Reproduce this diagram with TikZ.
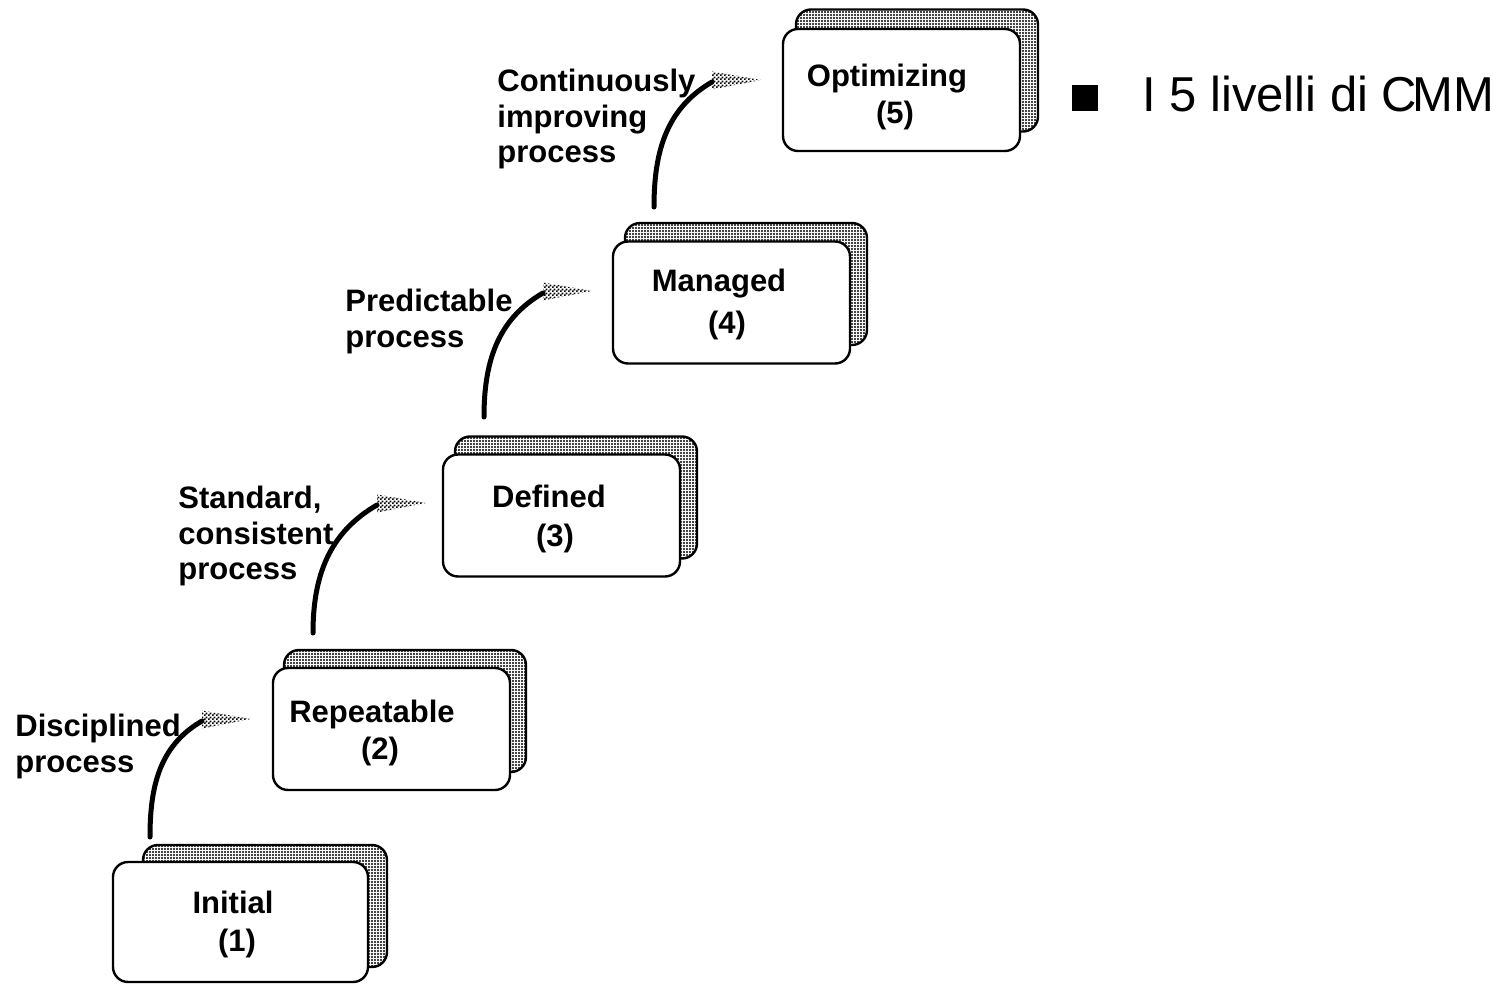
\documentclass[tikz,border=0pt]{standalone}
\usepackage{fontspec}
\setmainfont{Liberation Sans}
\usetikzlibrary{patterns,patterns.meta}

% fine checkerboard used for the flag-shaped arrow heads
\pgfdeclarepatternformonly{finecheck}{\pgfpointorigin}{\pgfpoint{2pt}{2pt}}{\pgfpoint{2pt}{2pt}}{%
  \pgfpathrectangle{\pgfpointorigin}{\pgfpoint{1pt}{1pt}}%
  \pgfpathrectangle{\pgfpoint{1pt}{1pt}}{\pgfpoint{1pt}{1pt}}%
  \pgfusepath{fill}}

\begin{document}
\begin{tikzpicture}[x=0.5pt,y=-0.5pt,
  backcard/.style={draw=black,line width=1.2pt,rounded corners=7.5pt,
    pattern={Dots[distance=1.5pt,radius=0.6pt]},pattern color=black,
    minimum width=121pt,minimum height=61pt,inner sep=0pt},
  frontcard/.style={draw=black,line width=1.2pt,rounded corners=7.5pt,fill=white,
    minimum width=118.5pt,minimum height=61pt,inner sep=0pt},
  levelname/.style={font=\fontsize{15.5pt}{17.75pt}\selectfont\bfseries,inner sep=0pt,anchor=base},
  steplabel/.style={font=\fontsize{15.5pt}{17.75pt}\selectfont\bfseries,inner sep=0pt,
    anchor=north west,align=left},
  climb/.style={line width=2.5pt,line cap=round},
  flaghead/.pic={\path[pattern=finecheck,pattern color=black]
    (0,-10.5) -- (49,-2) -- (0,7.5) -- cycle;}
]
\fill[white] (0,0) rectangle (1500,984);
\useasboundingbox (0,0) rectangle (1500,984);

% level cards: dotted card behind, white card in front
\node[backcard,minimum width=122pt] (l1b) at (265,906) {};
\node[frontcard,minimum width=127.5pt,minimum height=60pt] (l1) at (240.5,922) {};
\node[backcard] (l2b) at (405,711) {};
\node[frontcard] (l2) at (391.5,729) {};
\node[backcard] (l3b) at (576,497.5) {};
\node[frontcard] (l3) at (561.5,515.5) {};
\node[backcard] (l4b) at (746,284) {};
\node[frontcard] (l4) at (731.5,302.5) {};
\node[backcard] (l5b) at (917,70.5) {};
\node[frontcard] (l5) at (901.5,90) {};

% level names and numbers
\node[levelname] (l1t) at (233,913) {Initial};
\node[levelname] (l1n) at (237,951) {(1)};
\node[levelname] (l2t) at (372,722) {Repeatable};
\node[levelname] (l2n) at (380,759) {(2)};
\node[levelname] (l3t) at (549,507) {Defined};
\node[levelname] (l3n) at (555,546) {(3)};
\node[levelname] (l4t) at (719,292) {Managed};
\node[levelname] (l4n) at (727,334) {(4)};
\node[levelname] (l5t) at (887,87) {Optimizing};
\node[levelname] (l5n) at (895,124) {(5)};

% transition labels
\node[steplabel] (s1) at (15,714) {Disciplined\\process};
\node[steplabel] (s2) at (178,486) {Standard,\\consistent\\process};
\node[steplabel] (s3) at (345,289) {Predictable\\process};
\node[steplabel] (s4) at (497,69) {Continuously\\improving\\process};

% end points of the curved arrows
\coordinate (c1s) at (150,837);  \coordinate (c1e) at (202,721);
\coordinate (c2s) at (313,633);  \coordinate (c2e) at (377,505);
\coordinate (c3s) at (484,417);  \coordinate (c3e) at (543,293);
\coordinate (c4s) at (654,207);  \coordinate (c4e) at (712,82);

\foreach \k in {1,2,3,4}{
  \pic at (c\k e) {flaghead};
  \draw[climb] (c\k s) to[out=90,in=210] (c\k e);
}

% side heading
\node[fill=black,minimum size=13pt,inner sep=0pt] (bullet) at (1085,98.5) {};
\node[anchor=base west,inner sep=0pt,font=\fontsize{24.5pt}{29pt}\selectfont]
  (title) at (1142,112) {I 5 livelli di C\kern-0.1em MM};
\end{tikzpicture}
\end{document}
